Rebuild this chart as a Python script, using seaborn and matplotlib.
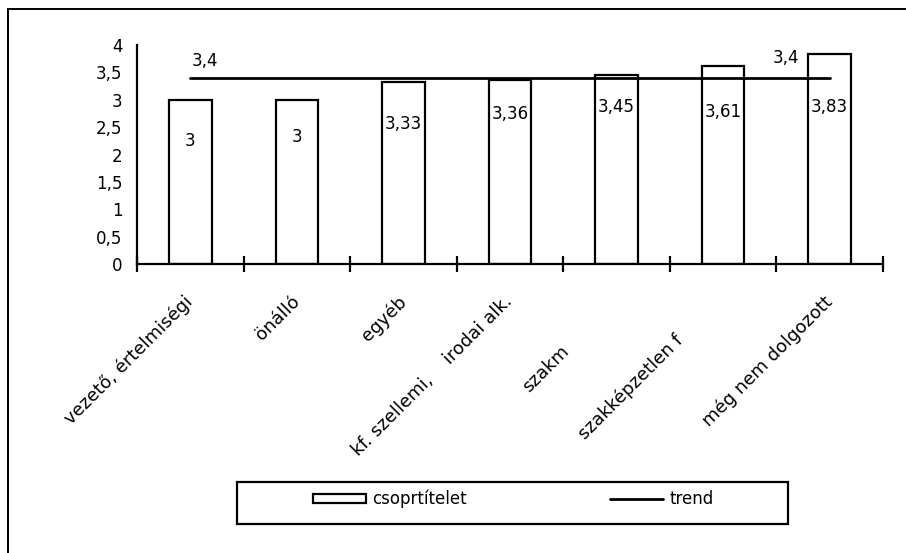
import numpy as np
import matplotlib
matplotlib.use("Agg")
import matplotlib.pyplot as plt
import matplotlib.transforms as mtransforms
from matplotlib.patches import Patch, Rectangle
from matplotlib.lines import Line2D
import seaborn as sns

# adatok (csoportátlagok foglalkozás szerint)
categories = ["vezető, értelmiségi", "önálló", "egyéb",
              "kf. szellemi,    irodai alk.", "szakm", "szakképzetlen f",
              "még nem dolgozott"]
csoport = [3.0, 3.0, 3.33, 3.36, 3.45, 3.61, 3.83]
trend = [3.4, 3.4, 3.4, 3.4, 3.4, 3.4, 3.4]
ytick_values = [0, 0.5, 1, 1.5, 2, 2.5, 3, 3.5, 4]
ytick_labels = ["0", "0,5", "1", "1,5", "2", "2,5", "3", "3,5", "4"]

# a címkék helye az oszlopokon belül (adategységben)
label_y = [2.24, 2.32, 2.55, 2.74, 2.86, 2.77, 2.86]

sns.set_style("white")
plt.rcParams["font.family"] = ["DejaVu Sans"]
plt.rcParams["font.size"] = 12
for key in ["text.color", "axes.labelcolor", "xtick.color", "ytick.color"]:
    plt.rcParams[key] = "black"

fig = plt.figure(figsize=(9.06, 5.53), dpi=100)
ax = fig.add_axes([137 / 906, 1 - 264 / 553, 746 / 906, 219 / 553])

sns.barplot(x=categories, y=csoport, ax=ax, width=0.4, color="white",
            edgecolor="black", linewidth=1.6, saturation=1)
sns.lineplot(x=categories, y=trend, ax=ax, color="black", linewidth=2,
             sort=False, zorder=5)

ax.set_xlim(-0.5, 6.5)
ax.set_ylim(0, 4)
ax.set_yticks(ytick_values)
ax.set_yticklabels(ytick_labels)
ax.set_xticks(np.arange(-0.5, 7, 1), minor=True)
ax.set_xlabel("")
ax.set_ylabel("")

for side in ["top", "right"]:
    ax.spines[side].set_visible(False)
for side in ["left", "bottom"]:
    ax.spines[side].set_linewidth(1.6)
    ax.spines[side].set_color("black")

ax.tick_params(axis="y", which="major", direction="inout", length=11,
               width=1.6, color="black", pad=5, labelsize=12)
ax.tick_params(axis="x", which="minor", direction="inout", length=11,
               width=1.6, color="black", bottom=True)
ax.tick_params(axis="x", which="major", length=0, pad=25, labelsize=13)

# elcsúszott (levágott) feliratok eltolása, pontban
label_shift = {"szakm": (-36, -36), "szakképzetlen f": (-31, -28)}
for lab in ax.get_xticklabels():
    lab.set_rotation(45)
    lab.set_ha("right")
    lab.set_va("center")
    lab.set_rotation_mode("anchor")
    txt = lab.get_text()
    if txt in label_shift:
        dx, dy = label_shift[txt]
        lab.set_transform(lab.get_transform() +
                          mtransforms.ScaledTranslation(dx / 72, dy / 72, fig.dpi_scale_trans))

# értékcímkék az oszlopokon
for i, v in enumerate(csoport):
    ax.text(i, label_y[i], f"{v:g}".replace(".", ","), ha="center",
            va="center", fontsize=12)

# trend címkék
ax.annotate(f"{trend[0]:g}".replace(".", ","), (0, trend[0]),
            xytext=(1, 12), textcoords="offset points", ha="left",
            va="center", fontsize=12)
ax.annotate(f"{trend[-1]:g}".replace(".", ","), (6, trend[-1]),
            xytext=(-22, 14), textcoords="offset points", ha="right",
            va="center", fontsize=12)

# jelmagyarázat
handles = [Patch(facecolor="white", edgecolor="black", linewidth=1.6),
           Line2D([0], [0], color="black", linewidth=2)]
fig.legend(handles, ["csoprtítelet", "trend"], loc="center",
           bbox_to_anchor=(513 / 906, 1 - 499 / 553), ncol=2, frameon=False,
           handlelength=3.2, handleheight=0.45, handletextpad=0.35,
           columnspacing=8.6, fontsize=12)
fig.add_artist(Rectangle((237 / 906, 1 - 524 / 553), 551 / 906, 42 / 553,
                         transform=fig.transFigure, facecolor="none",
                         edgecolor="black", linewidth=1.6))

# keret (bal és felső)
fig.add_artist(Line2D([7.5 / 906, 7.5 / 906], [0, 1 - 9 / 553],
                      transform=fig.transFigure, color="black", linewidth=1.4))
fig.add_artist(Line2D([7.5 / 906, 1], [1 - 9 / 553, 1 - 9 / 553],
                      transform=fig.transFigure, color="black", linewidth=1.4))

fig.savefig("out.png", dpi=100)
